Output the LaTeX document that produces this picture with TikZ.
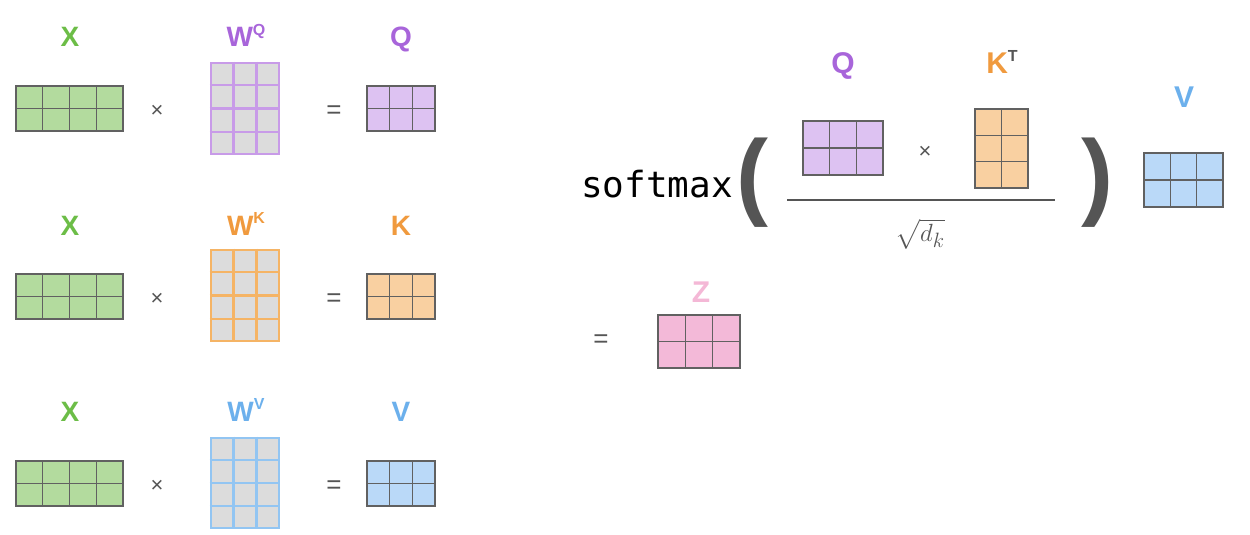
\documentclass[tikz,border=0pt]{standalone}
\usepackage{fontspec}
\usepackage{amsmath}
\usepackage{tikz}
\usetikzlibrary{positioning,calc}
\newfontfamily\lblfont{Liberation Sans}
\newfontfamily\codefont{DejaVu Sans Mono}

\definecolor{xgreen}{HTML}{6CBD47}
\definecolor{xgreenfill}{HTML}{B3DB9E}
\definecolor{qpurple}{HTML}{A865DA}
\definecolor{qpurplefill}{HTML}{DDC2F2}
\definecolor{qpurpleline}{HTML}{C89BE8}
\definecolor{korange}{HTML}{F09A3E}
\definecolor{korangefill}{HTML}{F9D0A1}
\definecolor{korangeline}{HTML}{F5B465}
\definecolor{vblue}{HTML}{6CB0EC}
\definecolor{vbluefill}{HTML}{BAD9F8}
\definecolor{vblueline}{HTML}{92C5F2}
\definecolor{zpink}{HTML}{F4B8D6}
\definecolor{zpinkfill}{HTML}{F3B9D8}
\definecolor{wgray}{HTML}{DCDCDC}
\definecolor{opgray}{HTML}{555555}

%% grid lines inside a matrix node: node, columns, rows, line options
\newcommand{\cells}[4]{%
  \pgfmathtruncatemacro\lastc{#2-1}%
  \pgfmathtruncatemacro\lastr{#3-1}%
  \foreach \i in {1,...,\lastc}
    \draw[#4] ($(#1.north west)!{\i/#2}!(#1.north east)$) -- ($(#1.south west)!{\i/#2}!(#1.south east)$);
  \foreach \j in {1,...,\lastr}
    \draw[#4] ($(#1.north west)!{\j/#3}!(#1.south west)$) -- ($(#1.north east)!{\j/#3}!(#1.south east)$);
}
\newcommand{\supl}[1]{\raisebox{0.4em}{\fontsize{16}{16}\selectfont #1}}

\tikzset{
  mat/.style 2 args={draw=black!62, line width=1.2pt, inner sep=0pt,
    minimum width=#1pt, minimum height=#2pt},
  wmat/.style 2 args={line width=2.6pt, fill=wgray, inner sep=0pt,
    minimum width=#1pt, minimum height=#2pt},
  lbl/.style={font=\lblfont\bfseries\fontsize{28}{28}\selectfont, anchor=base, inner sep=0pt},
  bigl/.style={font=\lblfont\bfseries\fontsize{30}{30}\selectfont, anchor=base, inner sep=0pt},
  op/.style={font=\lblfont\fontsize{22}{22}\selectfont, text=opgray, inner sep=0pt},
  eqop/.style={font=\lblfont\fontsize{26}{26}\selectfont, text=opgray, inner sep=0pt},
  paren/.style={font=\lblfont\bfseries\fontsize{96}{96}\selectfont, text=opgray, inner sep=0pt}
}

\begin{document}
\begin{tikzpicture}[x=1pt, y=-1pt]
    \useasboundingbox (0,0) rectangle (1250,535);

    %% Q row
    \node[mat={107}{45}, fill=xgreenfill] (xq) at (69.5,108.5) {};
    \node[wmat={68}{91}, draw=qpurpleline] (wq) at (245,108.5) {};
    \node[mat={68}{45}, fill=qpurplefill] (q) at (401,108.5) {};
    \cells{xq}{4}{2}{black!62, line width=1.2pt}
    \cells{wq}{3}{4}{qpurpleline, line width=2.6pt}
    \cells{q}{3}{2}{black!62, line width=1.2pt}
    \node[lbl, text=xgreen] (lxq) at (70,47) {X};
    \node[lbl, text=qpurple] (lwq) at (246,47) {W\supl{Q}};
    \node[lbl, text=qpurple] (lq) at (401,47) {Q};
    \node[op] (tq) at (157,111) {×};
    \node[eqop] (eq) at (334,112) {=};

    %% K row
    \node[mat={107}{45}, fill=xgreenfill] (xk) at (69.5,296.5) {};
    \node[wmat={68}{91}, draw=korangeline] (wk) at (245,295.5) {};
    \node[mat={68}{45}, fill=korangefill] (k) at (401,296.5) {};
    \cells{xk}{4}{2}{black!62, line width=1.2pt}
    \cells{wk}{3}{4}{korangeline, line width=2.6pt}
    \cells{k}{3}{2}{black!62, line width=1.2pt}
    \node[lbl, text=xgreen] (lxk) at (70,235) {X};
    \node[lbl, text=korange] (lwk) at (246,235) {W\supl{K}};
    \node[lbl, text=korange] (lk) at (401,235) {K};
    \node[op] (tk) at (157,299) {×};
    \node[eqop] (ek) at (334,300) {=};

    %% V row
    \node[mat={107}{45}, fill=xgreenfill] (xv) at (69.5,483.5) {};
    \node[wmat={68}{90}, draw=vblueline] (wv) at (245,483) {};
    \node[mat={68}{45}, fill=vbluefill] (v) at (401,483.5) {};
    \cells{xv}{4}{2}{black!62, line width=1.2pt}
    \cells{wv}{3}{4}{vblueline, line width=2.6pt}
    \cells{v}{3}{2}{black!62, line width=1.2pt}
    \node[lbl, text=xgreen] (lxv) at (70,421) {X};
    \node[lbl, text=vblue] (lwv) at (246,421) {W\supl{V}};
    \node[lbl, text=vblue] (lv) at (401,421) {V};
    \node[op] (tv) at (157,486) {×};
    \node[eqop] (ev) at (334,487) {=};

    %% attention formula
    \node[font=\codefont\fontsize{36}{36}\selectfont, anchor=base west, inner sep=0pt] (sm) at (581,197) {softmax};
    \node[paren] (lp) at (752,183) {(};
    \node[paren] (rp) at (1097,183) {)};
    \node[mat={80}{54}, fill=qpurplefill] (qq) at (843,148) {};
    \node[mat={53}{79}, fill=korangefill] (kt) at (1001.5,148.5) {};
    \cells{qq}{3}{2}{black!62, line width=1.2pt}
    \cells{kt}{2}{3}{black!62, line width=1.2pt}
    \node[op] (tqk) at (925,152) {×};
    \node[bigl, text=qpurple] (lqq) at (843,74) {Q};
    \node[bigl, text=korange] (lkt) at (1002,74) {K\supl{\textcolor{opgray}{T}}};
    \coordinate (fl) at (787,200);
    \coordinate (fr) at (1055,200);
    \draw[opgray, line width=1.5pt] (fl) -- (fr);
    \node[text=opgray, font=\fontsize{32}{32}\selectfont, inner sep=0pt] (dk) at (920,234) {$\sqrt{d_k}$};
    \node[mat={79}{54}, fill=vbluefill] (vv) at (1183.5,180) {};
    \cells{vv}{3}{2}{black!62, line width=1.2pt}
    \node[bigl, text=vblue] (lvv) at (1184,107) {V};

    %% result
    \node[eqop] (ez) at (601,341) {=};
    \node[mat={82}{53}, fill=zpinkfill] (z) at (699,341.5) {};
    \cells{z}{3}{2}{black!62, line width=1.2pt}
    \node[bigl, text=zpink] (lz) at (701,302) {Z};
\end{tikzpicture}
\end{document}
